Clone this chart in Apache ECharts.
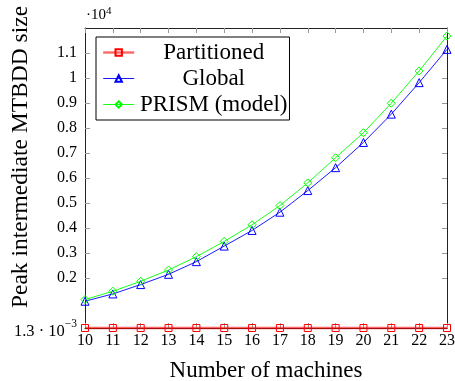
<!DOCTYPE html>
<html>
<head>
<meta charset="utf-8">
<script src="https://cdn.jsdelivr.net/npm/echarts@6/dist/echarts.min.js"></script>
<style>html,body{margin:0;padding:0;background:#fff;}#c{width:455px;height:381px;}</style>
</head>
<body>
<div id="c"></div>
<script>
const machines = [10, 11, 12, 13, 14, 15, 16, 17, 18, 19, 20, 21, 22, 23];
const partitioned = [13, 13, 13, 13, 13, 13, 13, 13, 13, 13, 13, 13, 13, 13];
const globalVals = [1083, 1374, 1748, 2158, 2664, 3286, 3911, 4640, 5504, 6420, 7427, 8558, 9817, 11147];
const prismVals = [1151, 1481, 1880, 2330, 2863, 3473, 4138, 4906, 5810, 6818, 7814, 8996, 10283, 11677];
const yTicks = [13, 2000, 3000, 4000, 5000, 6000, 7000, 8000, 9000, 10000, 11000];
const yMin = 13, yMax = 12000;
const xMin = 10, xMax = 23;

const FONT = 'Liberation Serif';
const chart = echarts.init(document.getElementById('c'), null, {renderer: 'canvas'});

function pairs(vals) { return machines.map((m, i) => [m, vals[i]]); }

const axisLine = {show: true, onZero: false, lineStyle: {color: '#222', width: 1}};
const tick = {show: true, inside: true, length: 5, lineStyle: {color: '#999', width: 1}};

const option = {
  animation: false,
  backgroundColor: '#fff',
  grid: {left: 85, right: 8, top: 28, bottom: 53, containLabel: false, outerBoundsMode: 'none'},
  legend: {
    orient: 'vertical',
    left: 96, top: 37,
    padding: [4, 2, 4, 6],
    itemGap: 3,
    itemWidth: 31, itemHeight: 8,
    backgroundColor: '#fff',
    borderColor: '#000', borderWidth: 1,
    lineStyle: {width: 'inherit'},
    textStyle: {fontFamily: FONT, fontSize: 23, color: '#000',
      rich: {t: {fontFamily: FONT, fontSize: 23, color: '#000', width: 149, align: 'center'}}},
    formatter: name => '{t|' + name + '}',
    data: ['Partitioned', 'Global', 'PRISM (model)']
  },
  xAxis: [{
    type: 'value', min: xMin, max: xMax, interval: 1, position: 'bottom',
    axisLine: axisLine, axisTick: tick,
    axisLabel: {fontFamily: FONT, fontSize: 16, color: '#000', margin: 5},
    splitLine: {show: false},
    name: 'Number of machines', nameLocation: 'middle', nameGap: 31,
    nameTextStyle: {fontFamily: FONT, fontSize: 23, color: '#000'}
  }, {
    type: 'value', min: xMin, max: xMax, interval: 1, position: 'top',
    axisLine: axisLine, axisTick: tick, axisLabel: {show: false}, splitLine: {show: false}
  }],
  yAxis: [{
    type: 'value', min: yMin, max: yMax, position: 'left',
    axisLine: axisLine,
    axisTick: Object.assign({}, tick, {customValues: yTicks.slice(1)}),
    axisLabel: {
      customValues: yTicks,
      fontFamily: FONT, fontSize: 16, color: '#000', margin: 8,
      formatter: v => v === yMin ? '{n|1.3 · 10}{s|−3}' : String(+(v / 10000).toFixed(1)),
      rich: {
        n: {fontFamily: FONT, fontSize: 16.5, color: '#000', padding: [8, 0, 0, 0]},
        s: {fontFamily: FONT, fontSize: 11.5, color: '#000', padding: [0, 0, 8, 0]}
      }
    },
    splitLine: {show: false}
  }, {
    type: 'value', min: yMin, max: yMax, position: 'right',
    axisLine: axisLine,
    axisTick: Object.assign({}, tick, {customValues: yTicks.slice(1)}),
    axisLabel: {show: false}, splitLine: {show: false}
  }],
  graphic: [{
    type: 'text', left: 86, top: 6,
    style: {
      text: '{n|·10}{s|4}', fill: '#000',
      rich: {
        n: {fontFamily: FONT, fontSize: 15, color: '#000'},
        s: {fontFamily: FONT, fontSize: 11, color: '#000', padding: [0, 0, 7, 0]}
      }
    }
  }, {
    type: 'text', x: 21, y: 157, rotation: Math.PI / 2,
    style: {text: 'Peak intermediate MTBDD size', fontFamily: FONT, fontSize: 23.5, fill: '#000',
      align: 'center', verticalAlign: 'middle'}
  }],
  series: [{
    name: 'Partitioned', type: 'line', data: pairs(partitioned), clip: false,
    symbol: 'rect', symbolSize: 7, z: 3,
    lineStyle: {color: '#ff0000', width: 2.4, opacity: 0.6},
    itemStyle: {color: 'rgba(255,255,255,0)', borderColor: '#ff0000', borderWidth: 1}
  }, {
    name: 'Global', type: 'line', data: pairs(globalVals), clip: false,
    symbol: 'triangle', symbolSize: 8, z: 4,
    lineStyle: {color: '#0000ff', width: 0.9},
    itemStyle: {color: 'rgba(255,255,255,0)', borderColor: '#0000ff', borderWidth: 1}
  }, {
    name: 'PRISM (model)', type: 'line', data: pairs(prismVals), clip: false,
    symbol: 'diamond', symbolSize: 8, z: 5,
    lineStyle: {color: '#00ff00', width: 0.9},
    itemStyle: {color: 'rgba(255,255,255,0)', borderColor: '#00ff00', borderWidth: 1}
  }]
};
chart.setOption(option);
</script>
</body>
</html>
